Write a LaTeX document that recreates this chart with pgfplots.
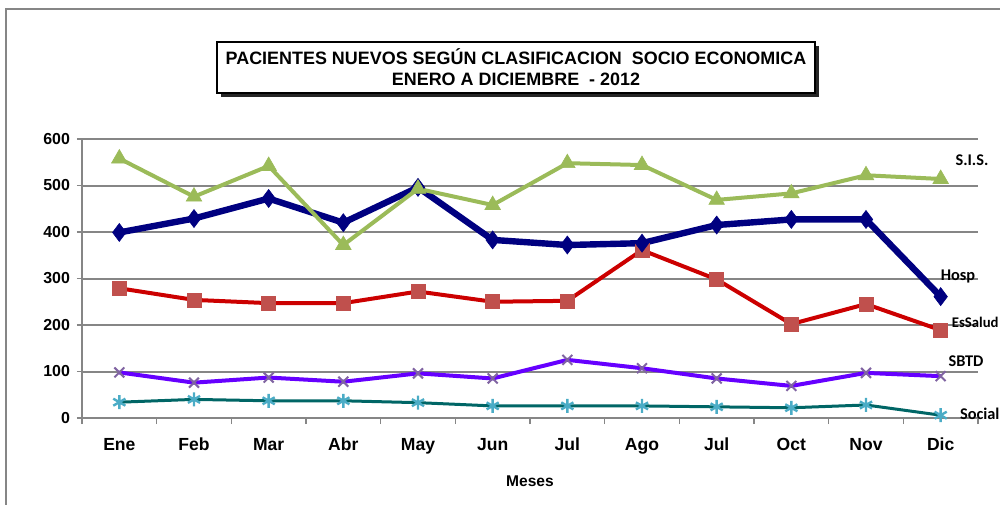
\documentclass[border=0pt]{standalone}
\usepackage{pgfplots}
\pgfplotsset{compat=1.18}
\usepackage{fontspec}
\setmainfont{Liberation Sans}
\newfontfamily\calib{Carlito}
\usetikzlibrary{plotmarks}

\definecolor{hosp}{RGB}{0,0,128}
\definecolor{esline}{RGB}{204,0,0}
\definecolor{esmark}{RGB}{192,80,77}
\definecolor{sis}{RGB}{155,187,89}
\definecolor{sbtdline}{RGB}{102,0,255}
\definecolor{sbtdmark}{RGB}{128,100,162}
\definecolor{socline}{RGB}{0,102,102}
\definecolor{socmark}{RGB}{75,172,198}
\definecolor{gridgray}{RGB}{134,134,134}

\begin{document}
\begin{tikzpicture}
\begin{scope}[x=0.5bp,y=0.5bp]
% outer chart border
\draw[gridgray, line width=1bp] (6,0) -- (6,496) -- (1000,496);
% title box with shadow
\fill[black!85] (221,408) rectangle (819,459);
\draw[fill=white, line width=0.6bp] (217,412) rectangle (815,463);
\node[font=\bfseries\fontsize{9}{10.5}\selectfont, align=center] at (516,437.5)
  {PACIENTES NUEVOS SEGÚN CLASIFICACION\ \ SOCIO ECONOMICA\\ENERO A DICIEMBRE\ \ - 2012};
\end{scope}

\begin{axis}[
    at={(41bp,43.5bp)}, anchor=south west,
    scale only axis,
    width=448bp, height=139.5bp,
    xmin=0.5, xmax=12.5,
    ymin=0, ymax=600,
    ytick={0,100,...,600},
    xtick={1,...,12},
    xticklabels={Ene,Feb,Mar,Abr,May,Jun,Jul,Ago,Jul,Oct,Nov,Dic},
    minor xtick={0.5,1.5,...,12.5},
    major x tick style={draw=none},
    tick align=outside,
    minor tick length=3bp,
    major tick length=2.5bp,
    axis x line*=bottom,
    axis y line*=left,
    axis line style={gridgray, line width=1bp},
    every tick/.style={gridgray, line width=0.8bp},
    ymajorgrids=true,
    grid style={gridgray, line width=1bp},
    yticklabel style={font=\bfseries\fontsize{8}{9}\selectfont},
    xticklabel style={font=\bfseries\fontsize{8.8}{10}\selectfont, yshift=-4bp},
    /pgf/number format/assume math mode=true,
    xlabel={Meses},
    xlabel style={font=\bfseries\fontsize{7.8}{9}\selectfont, yshift=-4bp},
    clip=false,
]
\addplot[color=socline, line width=1.5bp, mark=asterisk, mark size=3.5bp,
  mark options={color=socmark, line width=1.2bp}]
  coordinates {(1,34)(2,40)(3,37)(4,37)(5,33)(6,26)(7,26)(8,26)(9,24)(10,22)(11,28)(12,6)};
\addplot[color=sbtdline, line width=2bp, mark=x, mark size=3.5bp,
  mark options={color=sbtdmark, line width=1bp}]
  coordinates {(1,98)(2,76)(3,87)(4,78)(5,96)(6,85)(7,125)(8,107)(9,85)(10,69)(11,97)(12,90)};
\addplot[color=esline, line width=2bp, mark=square*, mark size=3.5bp,
  mark options={color=esmark, line width=0.3bp}]
  coordinates {(1,279)(2,254)(3,247)(4,247)(5,272)(6,250)(7,252)(8,361)(9,298)(10,202)(11,245)(12,189)};
\addplot[color=hosp, line width=3.2bp, mark=diamond*, mark size=4.5bp,
  mark options={color=hosp, line width=0.3bp}]
  coordinates {(1,399)(2,429)(3,472)(4,420)(5,496)(6,383)(7,372)(8,376)(9,415)(10,427)(11,427)(12,261)};
\addplot[color=sis, line width=2bp, mark=triangle*, mark size=4.5bp,
  mark options={color=sis, line width=0.3bp}]
  coordinates {(1,558)(2,476)(3,542)(4,372)(5,493)(6,458)(7,548)(8,544)(9,469)(10,483)(11,522)(12,514)};
\end{axis}

\begin{scope}[x=0.5bp,y=0.5bp,every node/.style={font=\calib\bfseries\fontsize{8.2}{9}\selectfont}]
\node at (972,345) {S.I.S.};
\node at (958,229) {Hosp};
\node[anchor=east, inner sep=0.5bp, font=\calib\bfseries\fontsize{7.4}{8}\selectfont] at (1000,183) {EsSalud};
\node at (966,144) {SBTD};
\node[anchor=west] at (953,91) {Social};
\end{scope}
\pgfresetboundingbox
\useasboundingbox (0,0) rectangle (500bp,252.5bp);
\end{tikzpicture}
\end{document}
